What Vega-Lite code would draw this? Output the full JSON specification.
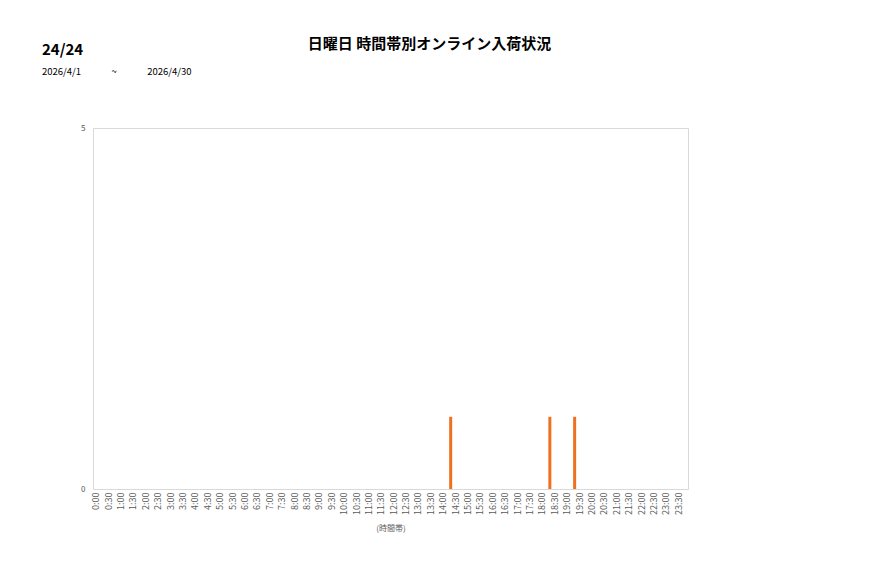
{
  "$schema": "https://vega.github.io/schema/vega-lite/v6.json",
  "width": 595,
  "height": 361,
  "autosize": {"type": "none"},
  "padding": {"left": 93, "top": 128, "right": 189, "bottom": 89},
  "background": "#ffffff",
  "title": {
    "text": "24/24",
    "subtitle": "2026/4/1\u2003\u2003\u2003\u2009~\u2003\u2003\u2003\u20092026/4/30",
    "anchor": "start",
    "frame": "group",
    "dx": -51,
    "offset": -40,
    "font": "Noto Sans CJK JP",
    "fontSize": 15,
    "fontWeight": "bold",
    "color": "#000000",
    "subtitleFont": "Noto Sans CJK JP",
    "subtitleFontSize": 9.5,
    "subtitleColor": "#000000",
    "subtitlePadding": 9
  },
  "data": {
    "values": [
      {"t": "0:00", "v": 0}, {"t": "0:30", "v": 0}, {"t": "1:00", "v": 0}, {"t": "1:30", "v": 0},
      {"t": "2:00", "v": 0}, {"t": "2:30", "v": 0}, {"t": "3:00", "v": 0}, {"t": "3:30", "v": 0},
      {"t": "4:00", "v": 0}, {"t": "4:30", "v": 0}, {"t": "5:00", "v": 0}, {"t": "5:30", "v": 0},
      {"t": "6:00", "v": 0}, {"t": "6:30", "v": 0}, {"t": "7:00", "v": 0}, {"t": "7:30", "v": 0},
      {"t": "8:00", "v": 0}, {"t": "8:30", "v": 0}, {"t": "9:00", "v": 0}, {"t": "9:30", "v": 0},
      {"t": "10:00", "v": 0}, {"t": "10:30", "v": 0}, {"t": "11:00", "v": 0}, {"t": "11:30", "v": 0},
      {"t": "12:00", "v": 0}, {"t": "12:30", "v": 0}, {"t": "13:00", "v": 0}, {"t": "13:30", "v": 0},
      {"t": "14:00", "v": 0}, {"t": "14:30", "v": 1}, {"t": "15:00", "v": 0}, {"t": "15:30", "v": 0},
      {"t": "16:00", "v": 0}, {"t": "16:30", "v": 0}, {"t": "17:00", "v": 0}, {"t": "17:30", "v": 0},
      {"t": "18:00", "v": 0}, {"t": "18:30", "v": 1}, {"t": "19:00", "v": 0}, {"t": "19:30", "v": 1},
      {"t": "20:00", "v": 0}, {"t": "20:30", "v": 0}, {"t": "21:00", "v": 0}, {"t": "21:30", "v": 0},
      {"t": "22:00", "v": 0}, {"t": "22:30", "v": 0}, {"t": "23:00", "v": 0}, {"t": "23:30", "v": 0}
    ]
  },
  "mark": {"type": "bar", "color": "#ee7020", "size": 3, "xOffset": -8},
  "encoding": {
    "x": {
      "field": "t",
      "type": "nominal",
      "sort": null,
      "scale": {"paddingInner": 0, "paddingOuter": 0},
      "axis": {
        "title": "(時間帯)",
        "titleFont": "Noto Sans CJK JP",
        "titleFontSize": 8,
        "titleFontWeight": "normal",
        "titleColor": "#595959",
        "titlePadding": 10,
        "labelAngle": -90,
        "labelFont": "Noto Sans CJK JP",
        "labelFontSize": 9,
        "labelColor": "#595959",
        "labelOffset": -3,
        "labelPadding": 3,
        "ticks": false,
        "domain": false,
        "grid": false
      }
    },
    "y": {
      "field": "v",
      "type": "quantitative",
      "scale": {"domain": [0, 5]},
      "axis": {
        "values": [0, 5],
        "title": "日曜日 時間帯別オンライン入荷状況",
        "titleAngle": 0,
        "titleAlign": "center",
        "titleBaseline": "middle",
        "titleX": 336,
        "titleY": -85,
        "titleFont": "Noto Sans CJK JP",
        "titleFontSize": 15,
        "titleFontWeight": "bold",
        "titleColor": "#000000",
        "labelFont": "Noto Sans CJK JP",
        "labelFontSize": 8,
        "labelColor": "#595959",
        "labelPadding": 8,
        "ticks": false,
        "domain": false,
        "grid": false
      }
    }
  },
  "config": {
    "view": {"stroke": "#d9d9d9", "strokeWidth": 1}
  }
}
